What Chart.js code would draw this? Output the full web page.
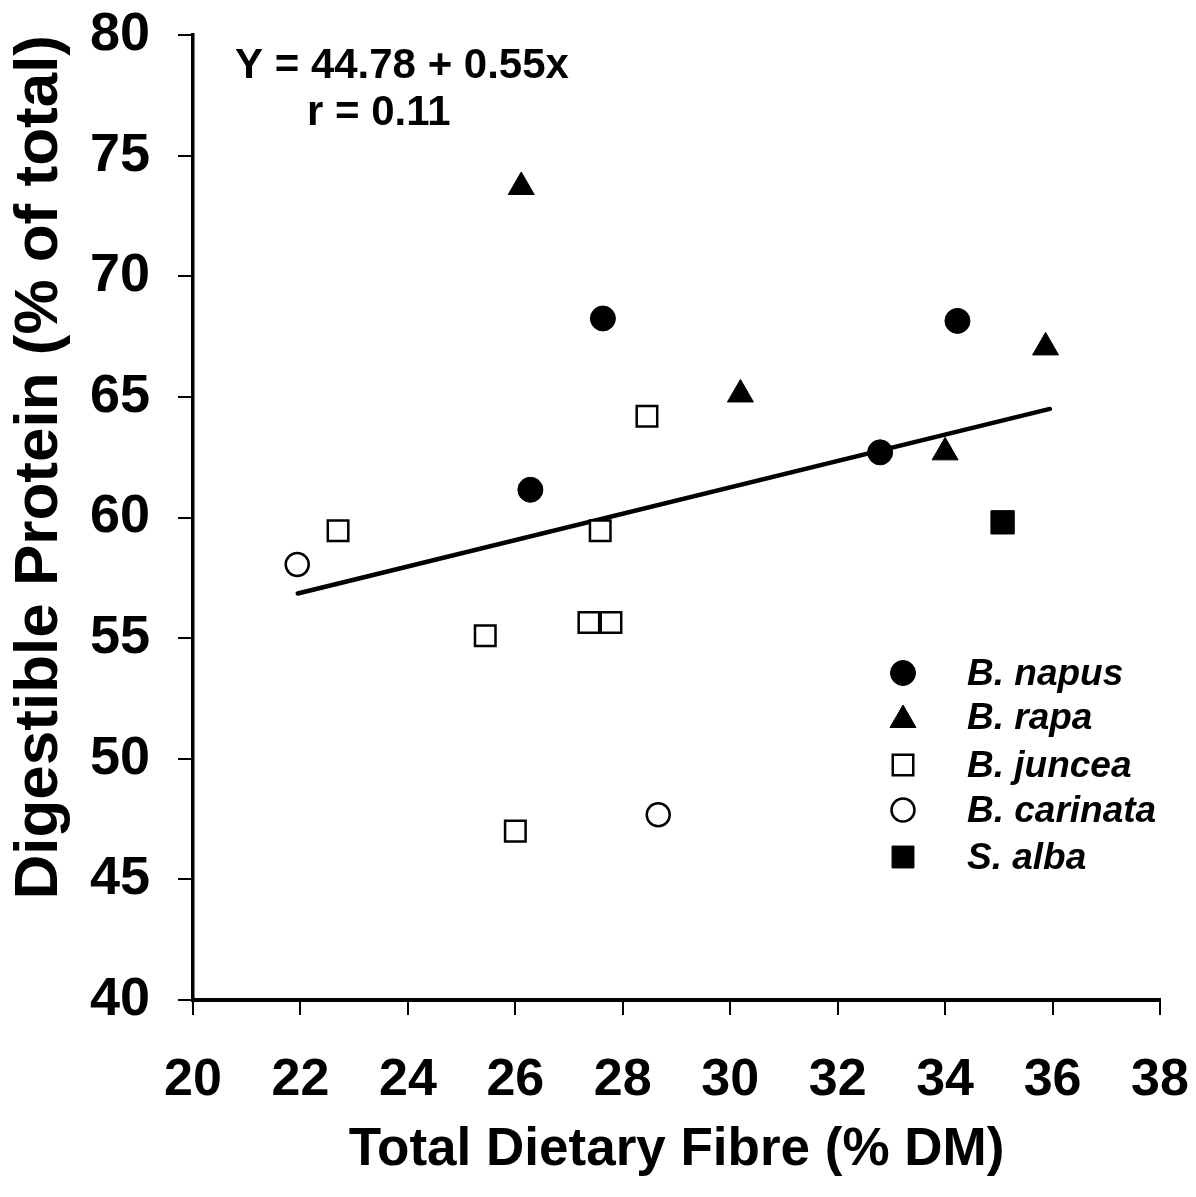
<!DOCTYPE html>
<html>
<head>
<meta charset="utf-8">
<script src="https://cdn.jsdelivr.net/npm/chart.js@4/dist/chart.umd.min.js"></script>
<style>
  html, body { margin: 0; padding: 0; background: #fff; }
  #wrap { width: 1196px; height: 1197px; }
</style>
</head>
<body>
<div id="wrap"><canvas id="c" width="1196" height="1197"></canvas></div>
<script>
// ---- data ----
const napusX = [26.28, 27.63, 32.79, 34.23];
const napusY = [61.15, 68.25, 62.7, 68.15];
const rapaX = [26.11, 30.19, 34.0, 35.87];
const rapaY = [73.7, 65.1, 62.7, 67.05];
const junceaX = [22.7, 28.45, 27.58, 25.44, 27.37, 27.78, 26.0];
const junceaY = [59.45, 64.2, 59.45, 55.1, 55.65, 55.65, 47.0];
const carinataX = [21.94, 28.66];
const carinataY = [58.05, 47.68];
const albaX = [35.07];
const albaY = [59.8];
const fitX = [21.95, 35.95];
const fitY = [56.85, 64.5];
const xTicks = [20, 22, 24, 26, 28, 30, 32, 34, 36, 38];
const yTicks = [40, 45, 50, 55, 60, 65, 70, 75, 80];
const legendNames = ['B. napus', 'B. rapa', 'B. juncea', 'B. carinata', 'S. alba'];
const equationText = 'Y = 44.78 + 0.55x';
const rText = 'r = 0.11';
const xTitle = 'Total Dietary Fibre (% DM)';
const yTitle = 'Digestible Protein (% of total)';

const pts = (xs, ys) => xs.map((x, i) => ({ x: x, y: ys[i] }));
const FONT = "'Liberation Sans', Arial, Helvetica, sans-serif";

const styles = [
  { pointStyle: 'circle', radius: 12.5, bg: '#000', border: '#000', bw: 1 },
  { pointStyle: 'triangle', radius: 15, bg: '#000', border: '#000', bw: 1 },
  { pointStyle: 'rect', radius: 14.5, bg: '#fff', border: '#000', bw: 2.5 },
  { pointStyle: 'circle', radius: 11.5, bg: '#fff', border: '#000', bw: 2.5 },
  { pointStyle: 'rect', radius: 16.5, bg: '#000', border: '#000', bw: 1 }
];
const seriesData = [pts(napusX, napusY), pts(rapaX, rapaY), pts(junceaX, junceaY), pts(carinataX, carinataY), pts(albaX, albaY)];

const datasets = [{
  type: 'line',
  label: 'fit',
  data: pts(fitX, fitY),
  borderColor: '#000',
  borderWidth: 4.5,
  pointRadius: 0,
  fill: false,
  borderCapStyle: 'round',
  order: 10
}];
legendNames.forEach((n, i) => {
  const s = styles[i];
  datasets.push({
    type: 'scatter',
    label: n,
    data: seriesData[i],
    pointStyle: s.pointStyle,
    pointRadius: s.radius,
    pointHoverRadius: s.radius,
    backgroundColor: s.bg,
    borderColor: s.border,
    pointBorderWidth: s.bw,
    order: 1
  });
});

const annot = {
  id: 'annot',
  afterDatasetsDraw(chart) {
    const ctx = chart.ctx;
    ctx.save();
    ctx.fillStyle = '#000';
    ctx.textBaseline = 'alphabetic';
    ctx.font = "bold 42px " + FONT;
    ctx.textAlign = 'left';
    ctx.fillText(equationText, 235, 78);
    ctx.fillText(rText, 307, 125);
    // legend
    const mx = 903, tx = 967;
    const rows = [673, 717, 765, 810, 857];
    legendNames.forEach((n, i) => {
      const s = styles[i];
      const r = s.pointStyle === 'rect' && s.bg === '#000' ? 15.5 : s.radius;
      ctx.fillStyle = s.bg;
      ctx.strokeStyle = s.border;
      ctx.lineWidth = s.bw;
      Chart.helpers.drawPoint(ctx, { pointStyle: s.pointStyle, rotation: 0, borderWidth: s.bw, radius: r }, mx, rows[i] + (s.pointStyle === 'triangle' ? 3 : 0));
      ctx.fillStyle = '#000';
      ctx.font = "italic bold 37px " + FONT;
      ctx.textAlign = 'left';
      ctx.textBaseline = 'middle';
      ctx.fillText(n, tx, rows[i] + 2);
    });
    ctx.restore();
  }
};

new Chart(document.getElementById('c'), {
  data: { datasets: datasets },
  options: {
    responsive: false,
    animation: false,
    events: [],
    layout: { padding: { left: 0, right: 36, top: 35, bottom: 0 } },
    plugins: { legend: { display: false }, tooltip: { enabled: false } },
    scales: {
      x: {
        type: 'linear',
        min: 20, max: 38,
        afterBuildTicks: (s) => { s.ticks = xTicks.map(v => ({ value: v })); },
        afterFit: (s) => { s.height = 197; s.paddingLeft = 0; s.paddingRight = 0; },
        grid: { drawOnChartArea: false, drawTicks: true, tickLength: 15, color: '#000', lineWidth: 2 },
        border: { display: true, color: '#000', width: 4 },
        ticks: { color: '#000', padding: 34, font: { family: FONT, size: 52, weight: 'bold' }, maxRotation: 0, autoSkip: false },
        title: { display: true, text: xTitle, color: '#000', font: { family: FONT, size: 53, weight: 'bold' }, padding: { top: 0, bottom: 15 } }
      },
      y: {
        type: 'linear',
        min: 40, max: 80,
        afterBuildTicks: (s) => { s.ticks = yTicks.map(v => ({ value: v })); },
        afterFit: (s) => { s.width = 193; s.paddingTop = 0; s.paddingBottom = 0; },
        grid: { drawOnChartArea: false, drawTicks: true, tickLength: 15, color: '#000', lineWidth: 2 },
        border: { display: true, color: '#000', width: 3.5 },
        ticks: { color: '#000', padding: 28, font: { family: FONT, size: 54, weight: 'bold' }, autoSkip: false },
        title: { display: true, text: yTitle, align: 'end', color: '#000', font: { family: FONT, size: 62, weight: 'bold' }, padding: { top: 3, bottom: 0 } }
      }
    }
  },
  plugins: [annot]
});
</script>
</body>
</html>
